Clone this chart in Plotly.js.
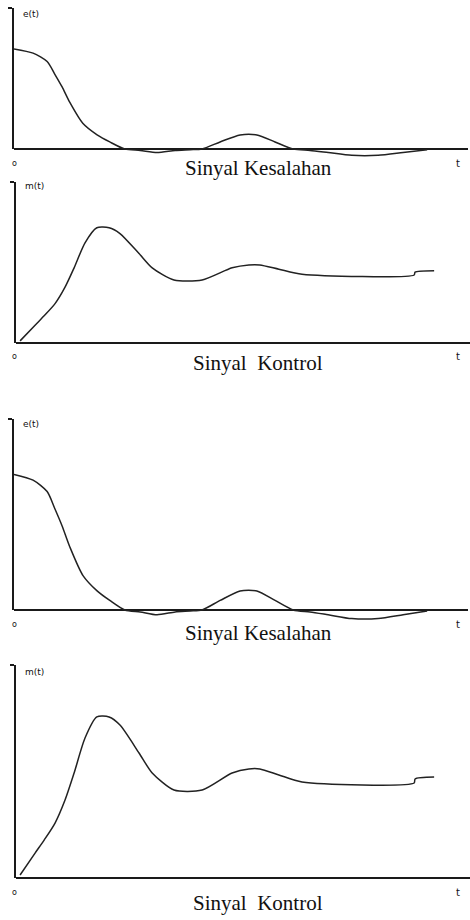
<!DOCTYPE html>
<html>
<head>
<meta charset="utf-8">
<script src="https://cdn.plot.ly/plotly-3.0.1.min.js"></script>
<style>html,body{margin:0;padding:0;background:#fff;}#chart{width:470px;height:920px;}</style>
</head>
<body>
<div id="chart"></div>
<script>
// time axis (arbitrary units, 0..10)
var tError = [0, 0.42, 0.73, 0.90, 1.06, 1.23, 1.52, 1.83, 2.11, 2.44, 2.78, 3.15, 3.55, 3.88, 4.14, 4.54, 4.98, 5.35, 5.75, 6.15, 6.52, 6.92, 7.44, 8.02, 8.57, 9.10];
var eValues = [0.71, 0.68, 0.62, 0.53, 0.44, 0.33, 0.18, 0.10, 0.05, 0.0, -0.01, -0.025, -0.01, -0.005, 0.0, 0.05, 0.10, 0.10, 0.05, 0.0, -0.01, -0.025, -0.045, -0.045, -0.025, -0.005];

var tControl = [0.09, 0.42, 0.62, 0.86, 1.08, 1.28, 1.52, 1.78, 2.05, 2.29, 2.71, 3.00, 3.48, 4.10, 4.76, 5.13, 5.37, 5.79, 6.30, 8.77, 8.79, 9.21];
var mValues = [0.014, 0.117, 0.178, 0.258, 0.366, 0.493, 0.657, 0.756, 0.756, 0.718, 0.587, 0.493, 0.413, 0.413, 0.493, 0.512, 0.512, 0.484, 0.451, 0.446, 0.465, 0.474];

var titles = ["Sinyal Kesalahan", "Sinyal  Kontrol", "Sinyal Kesalahan", "Sinyal  Kontrol"];
var yLabels = ["e(t)", "m(t)", "e(t)", "m(t)"];
var originLabel = "o";
var timeLabel = "t";

var W = 470, H = 920;
function px(x) { return x / W; }
function py(y) { return 1 - y / H; }

// panel geometry in pixels
var panels = [
  {left: 14, right: 468, base: 149, top: 8,   ymax: 1.0,   title_y: 168, label_y: 14},
  {left: 16, right: 470, base: 343, top: 182, ymax: 1.056, title_y: 363, label_y: 186},
  {left: 14, right: 468, base: 610, top: 419, ymax: 1.0,   title_y: 633, label_y: 424},
  {left: 16, right: 470, base: 878, top: 665, ymax: 1.0,   title_y: 903, label_y: 672}
];

var series = [
  {t: tError, v: eValues},
  {t: tControl, v: mValues},
  {t: tError, v: eValues},
  {t: tControl, v: mValues}
];

var data = [];
var layout = {
  width: W, height: H,
  margin: {l: 0, r: 0, t: 0, b: 0},
  paper_bgcolor: "#fff", plot_bgcolor: "rgba(0,0,0,0)",
  showlegend: false,
  annotations: []
};
var axisColor = "#1a1a1a";
var ext = 0.07;

panels.forEach(function (p, i) {
  var n = i + 1, n2 = i + 5;
  var h = p.base - p.top;
  var low = p.base + ext * h;
  layout["xaxis" + n] = {
    domain: [px(p.left), px(p.right)], range: [0, 10], anchor: "y" + n,
    showline: false, zeroline: false, showgrid: false, showticklabels: false, ticks: "", fixedrange: true
  };
  layout["yaxis" + n] = {
    domain: [py(low), py(p.top)], range: [-ext * p.ymax, p.ymax], anchor: "x" + n,
    showline: false, showgrid: false, showticklabels: false, ticks: "",
    zeroline: true, zerolinecolor: axisColor, zerolinewidth: 2, fixedrange: true
  };
  layout["yaxis" + n2] = {
    domain: [py(p.base), py(p.top)], range: [0, 1], anchor: "x" + n,
    showline: true, linecolor: axisColor, linewidth: 2, showgrid: false, zeroline: false,
    showticklabels: false, ticks: "outside", tickvals: [1], ticklen: 4, tickwidth: 2, tickcolor: axisColor, fixedrange: true
  };
  data.push({
    type: "scatter", mode: "lines", x: series[i].t, y: series[i].v,
    xaxis: "x" + n, yaxis: "y" + n,
    line: {color: "#222", width: 1.5, shape: "spline", smoothing: 0.7}, hoverinfo: "skip"
  });
  data.push({type: "scatter", mode: "lines", x: [], y: [], xaxis: "x" + n, yaxis: "y" + n2, hoverinfo: "skip"});

  layout.annotations.push({
    xref: "paper", yref: "paper", x: px(258), y: py(p.title_y), text: titles[i], showarrow: false,
    xanchor: "center", yanchor: "middle",
    font: {family: "Liberation Serif, Times New Roman, serif", size: 21, color: "#111"}
  });
  layout.annotations.push({
    xref: "paper", yref: "paper", x: px(p.left + 7), y: py(p.label_y), text: yLabels[i], showarrow: false,
    xanchor: "left", yanchor: "middle",
    font: {family: "DejaVu Sans, sans-serif", size: 9, color: "#111"}
  });
  layout.annotations.push({
    xref: "paper", yref: "paper", x: px(15), y: py(p.base + 14), text: originLabel, showarrow: false,
    xanchor: "center", yanchor: "middle",
    font: {family: "DejaVu Sans, sans-serif", size: 8, color: "#111"}
  });
  layout.annotations.push({
    xref: "paper", yref: "paper", x: px(458), y: py(p.base + 14), text: timeLabel, showarrow: false,
    xanchor: "center", yanchor: "middle",
    font: {family: "DejaVu Sans, sans-serif", size: 10, color: "#111"}
  });
});

Plotly.newPlot("chart", data, layout, {displayModeBar: false, staticPlot: true});
</script>
</body>
</html>
